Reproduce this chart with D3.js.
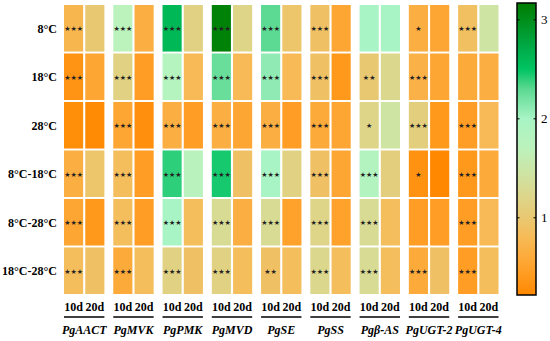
<!DOCTYPE html>
<meta charset="utf-8">
<html lang="en">
<head>
<style>
	body { margin: 0; background: #fff; }
	svg text { font-family: "Liberation Serif", "Times New Roman", serif; }
	.rowlab { font-size: 12px; font-weight: bold; }
	.daylab { font-size: 12px; font-weight: bold; }
	.genelab { font-size: 12px; font-weight: bold; font-style: italic; }
	.star { font-size: 7px; font-family: "DejaVu Sans", sans-serif; }
	.cbtick { font-size: 13px; }
</style>
</head>
<body>
<div id="chart"></div>
<script src="https://d3js.org/d3.v7.min.js"></script>
<script type="text/javascript">
    // categories
    var treatments = ["8°C", "18°C", "28°C", "8°C-18°C", "8°C-28°C", "18°C-28°C"];
    var genes = ["PgAACT", "PgMVK", "PgPMK", "PgMVD", "PgSE", "PgSS", "Pgβ-AS", "PgUGT-2", "PgUGT-4"];
    var days = ["10d", "20d"];

    // relative expression, one row per treatment, one value per gene
    var val10d = [
      [0.75, 1.70, 2.60, 3.12, 2.30, 0.90, 2.00, 0.65, 0.88],
      [0.35, 1.15, 1.80, 2.25, 2.10, 0.90, 1.00, 0.70, 0.60],
      [0.28, 0.55, 0.65, 0.65, 0.65, 0.60, 1.20, 1.10, 0.45],
      [0.65, 0.85, 2.40, 2.45, 2.00, 0.90, 1.85, 0.33, 0.40],
      [0.55, 0.85, 2.00, 1.30, 1.30, 1.20, 1.30, 0.45, 0.45],
      [0.85, 0.60, 1.15, 1.15, 0.90, 1.25, 1.30, 0.60, 0.45]
    ];
    var val20d = [
      [1.00, 0.65, 1.15, 1.20, 0.95, 0.55, 2.00, 0.55, 1.45],
      [0.55, 0.45, 0.80, 0.80, 0.80, 0.40, 1.25, 0.55, 0.65],
      [0.25, 0.30, 0.45, 0.55, 0.45, 0.55, 1.45, 0.40, 0.80],
      [0.95, 0.45, 1.75, 0.90, 1.15, 0.55, 1.10, 0.22, 0.60],
      [0.40, 0.45, 0.85, 0.65, 0.50, 0.50, 0.85, 0.45, 0.80],
      [0.90, 0.85, 0.90, 0.85, 0.85, 0.85, 0.85, 0.90, 0.85]
    ];
    // significance marks on 10d cells
    var stars10d = [
      ["***", "***", "***", "***", "***", "***", "", "*", "***"],
      ["***", "***", "***", "***", "***", "***", "**", "***", ""],
      ["", "***", "***", "***", "***", "***", "*", "***", "***"],
      ["***", "***", "***", "***", "***", "***", "***", "*", "***"],
      ["***", "***", "***", "***", "***", "***", "***", "", "***"],
      ["***", "***", "***", "***", "**", "***", "***", "***", "***"]
    ];
    var cbTicks = [1, 2, 3];

    var width = 550, height = 341;

    var svg = d3.select("#chart")
      .append("svg")
        .attr("width", width)
        .attr("height", height);

    // colour scale
    var color = d3.scaleLinear()
      .domain([0.22, 0.5, 0.8, 1.0, 1.3, 1.7, 2.0, 2.3, 2.5, 2.7, 3.17])
      .range(["#ff8800", "#ffa22c", "#f7ba56", "#e9c872", "#d8db94", "#bcf2bc",
              "#a8f4c4", "#5cd992", "#00c462", "#00ad4a", "#007c00"])
      .clamp(true);

    // scales
    var x = d3.scaleBand().domain(genes).range([64, 498.5]).paddingInner(0.18);
    var xd = d3.scaleBand().domain(days).range([0, x.bandwidth()]).paddingInner(0.1);
    var y = d3.scaleBand().domain(treatments).range([5, 294]).paddingInner(0.04);

    var cells = [];
    treatments.forEach(function (t, i) {
      genes.forEach(function (g, j) {
        cells.push({t: t, g: g, d: "10d", v: val10d[i][j], s: stars10d[i][j]});
        cells.push({t: t, g: g, d: "20d", v: val20d[i][j], s: ""});
      });
    });

    svg.append("g")
      .selectAll("rect")
      .data(cells)
      .enter()
      .append("rect")
        .attr("x", d => x(d.g) + xd(d.d))
        .attr("y", d => y(d.t))
        .attr("width", xd.bandwidth())
        .attr("height", y.bandwidth())
        .attr("fill", d => color(d.v));

    svg.append("g")
      .selectAll("text")
      .data(cells.filter(d => d.s))
      .enter()
      .append("text")
        .attr("class", "star")
        .attr("text-anchor", "middle")
        .attr("x", d => x(d.g) + xd(d.d) + xd.bandwidth() / 2)
        .attr("y", d => y(d.t) + y.bandwidth() / 2 + 3)
        .text(d => d.s.replace(/\*/g, "★"))
        .attr("fill", "#222");

    // row labels
    svg.append("g")
      .selectAll("text")
      .data(treatments)
      .enter()
      .append("text")
        .attr("class", "rowlab")
        .attr("text-anchor", "end")
        .attr("x", 57)
        .attr("y", d => y(d) + y.bandwidth() / 2 + 4.5)
        .text(d => d);

    // day labels, underline, gene names
    var gx = svg.append("g")
      .selectAll("g")
      .data(genes)
      .enter()
      .append("g")
        .attr("transform", d => "translate(" + x(d) + ",0)");

    gx.selectAll("text.daylab")
      .data(days)
      .enter()
      .append("text")
        .attr("class", "daylab")
        .attr("text-anchor", "middle")
        .attr("x", d => xd(d) + xd.bandwidth() / 2)
        .attr("y", 311)
        .text(d => d);

    gx.append("line")
      .attr("x1", 0)
      .attr("x2", x.bandwidth())
      .attr("y1", 317)
      .attr("y2", 317)
      .attr("stroke", "#000")
      .attr("stroke-width", 1.5);

    gx.append("text")
      .attr("class", "genelab")
      .attr("text-anchor", "middle")
      .attr("x", x.bandwidth() / 2)
      .attr("y", 334)
      .text(d => d);

    // colour bar
    var cbX = 517, cbW = 19;
    var cy = d3.scaleLinear().domain([0.22, 3.17]).range([295, 3]);

    var grad = svg.append("defs").append("linearGradient")
      .attr("id", "cbgrad")
      .attr("x1", 0).attr("y1", 1).attr("x2", 0).attr("y2", 0);
    grad.selectAll("stop")
      .data(color.domain())
      .enter()
      .append("stop")
        .attr("offset", d => (d - 0.22) / (3.17 - 0.22))
        .attr("stop-color", d => color(d));

    svg.append("rect")
      .attr("x", cbX)
      .attr("y", cy(3.17))
      .attr("width", cbW)
      .attr("height", cy(0.22) - cy(3.17))
      .attr("fill", "url(#cbgrad)")
      .attr("stroke", "#000")
      .attr("stroke-width", 1.5);

    var tk = svg.append("g")
      .selectAll("g")
      .data(cbTicks)
      .enter()
      .append("g");
    tk.append("line")
      .attr("x1", cbX).attr("x2", cbX + 2.5)
      .attr("y1", d => cy(d)).attr("y2", d => cy(d))
      .attr("stroke", "#000");
    tk.append("line")
      .attr("x1", cbX + cbW - 2.5).attr("x2", cbX + cbW)
      .attr("y1", d => cy(d)).attr("y2", d => cy(d))
      .attr("stroke", "#000");
    tk.append("text")
      .attr("class", "cbtick")
      .attr("x", 541)
      .attr("y", d => cy(d) + 4.5)
      .text(d => d);
</script>
</body>
</html>
